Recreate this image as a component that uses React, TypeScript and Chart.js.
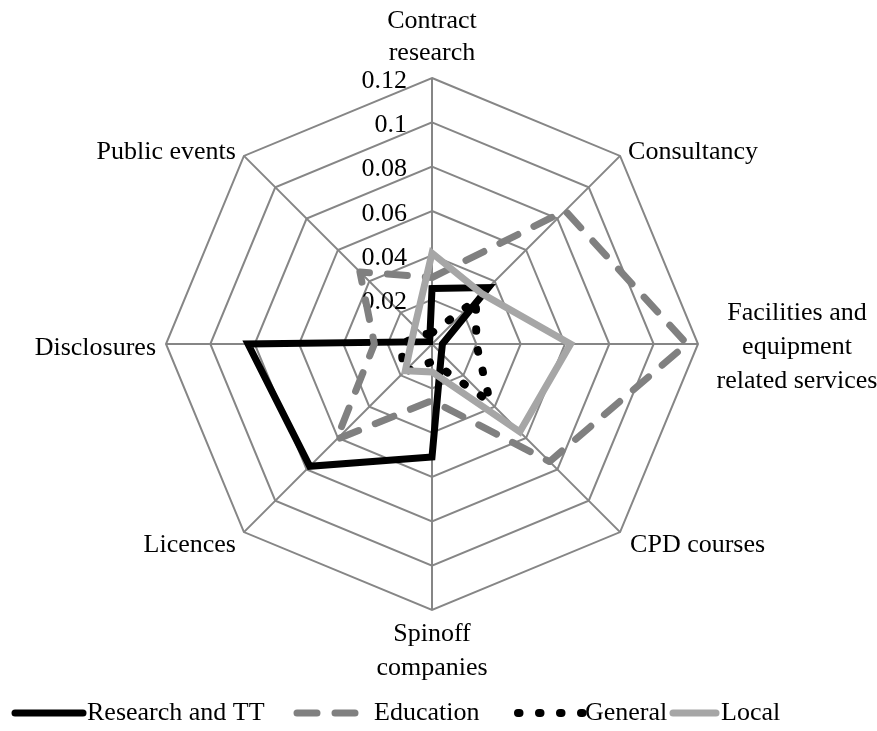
import React, { useEffect, useRef } from 'react';
import { Chart, registerables } from 'chart.js';

Chart.register(...registerables);

// ---- data ----
const CATEGORIES: string[][] = [
  ['Contract', 'research'],
  ['Consultancy'],
  ['Facilities and', 'equipment', 'related services'],
  ['CPD courses'],
  ['Spinoff', 'companies'],
  ['Licences'],
  ['Disclosures'],
  ['Public events'],
];

const SERIES_NAMES = ['Research and TT', 'Education', 'General', 'Local'];

const RESEARCH_TT = [0.025, 0.036, 0.0047, 0.006, 0.051, 0.078, 0.083, 0.0015];
const EDUCATION = [0.030, 0.085, 0.115, 0.075, 0.0255, 0.061, 0.026, 0.046];
const GENERAL = [0.005, 0.028, 0.020, 0.037, 0.008, 0.018, 0.014, 0.006];
const LOCAL = [0.041, 0.032, 0.0625, 0.056, 0.0126, 0.017, 0.0095, 0.011];

const TICK_VALUES = [0.02, 0.04, 0.06, 0.08, 0.1, 0.12];
const TICK_LABELS = ['0.02', '0.04', '0.06', '0.08', '0.1', '0.12'];

const FONT = '26px "Liberation Serif", "Times New Roman", serif';

// label placement relative to the outer vertex of each spoke
const POINT_LABEL_LAYOUT = [
  { align: 'center', dx: 0, dy: -57, lh: 32 },
  { align: 'left', dx: 8, dy: -4, lh: 32 },
  { align: 'center', dx: 99, dy: -31, lh: 34 },
  { align: 'left', dx: 10, dy: 13, lh: 32 },
  { align: 'center', dx: 0, dy: 24, lh: 34 },
  { align: 'right', dx: -8, dy: 13, lh: 32 },
  { align: 'right', dx: -10, dy: 4, lh: 32 },
  { align: 'right', dx: -8, dy: -4, lh: 32 },
];

const LEGEND_LAYOUT = [
  { x0: 15, x1: 83, tx: 87 },
  { x0: 297, x1: 364, tx: 374 },
  { x0: 518, x1: 584, tx: 585 },
  { x0: 673, x1: 716, tx: 721 },
];
const LEGEND_Y = 713;

const customText = {
  id: 'customText',
  beforeDatasetsDraw(chart: any) {
    const scale = chart.scales.r;
    const ctx = chart.ctx;
    ctx.save();
    ctx.font = FONT;
    ctx.fillStyle = '#000';
    ctx.textAlign = 'right';
    ctx.textBaseline = 'middle';
    TICK_VALUES.forEach((v, i) => {
      const d = scale.getDistanceFromCenterForValue(v);
      ctx.fillText(TICK_LABELS[i], scale.xCenter - 25, scale.yCenter - d + 3);
    });
    ctx.restore();
  },
  afterDraw(chart: any) {
    const scale = chart.scales.r;
    const ctx = chart.ctx;
    ctx.save();
    ctx.font = FONT;
    ctx.fillStyle = '#000';
    ctx.textBaseline = 'middle';
    const outer = scale.getDistanceFromCenterForValue(scale.max);
    CATEGORIES.forEach((lines, i) => {
      const p = scale.getPointPosition(i, outer);
      const l = POINT_LABEL_LAYOUT[i];
      ctx.textAlign = l.align;
      lines.forEach((t, j) => {
        ctx.fillText(t, p.x + l.dx, p.y + l.dy + j * l.lh);
      });
    });
    // legend
    chart.data.datasets.forEach((ds: any, i: number) => {
      const L = LEGEND_LAYOUT[i];
      ctx.save();
      ctx.strokeStyle = ds.borderColor;
      ctx.lineWidth = ds.borderWidth;
      ctx.lineCap = 'round';
      ctx.setLineDash(ds.borderDash || []);
      ctx.beginPath();
      ctx.moveTo(L.x0, LEGEND_Y);
      ctx.lineTo(L.x1, LEGEND_Y);
      ctx.stroke();
      ctx.restore();
      ctx.textAlign = 'left';
      ctx.fillText(ds.label, L.tx, LEGEND_Y);
    });
    ctx.restore();
  },
};

export default function App() {
  const ref = useRef<HTMLCanvasElement | null>(null);
  useEffect(() => {
    if (!ref.current) return;
    const chart = new Chart(ref.current, {
      type: 'radar',
      data: {
        labels: CATEGORIES.map((c) => c.join(' ')),
        datasets: [
          {
            label: SERIES_NAMES[0],
            data: RESEARCH_TT,
            borderColor: '#000000',
            borderWidth: 7,
            fill: false,
            pointRadius: 0,
            borderJoinStyle: 'miter',
            order: 4,
          },
          {
            label: SERIES_NAMES[1],
            data: EDUCATION,
            borderColor: '#808080',
            borderWidth: 7,
            borderDash: [20, 18],
            borderCapStyle: 'round',
            borderJoinStyle: 'round',
            fill: false,
            pointRadius: 0,
            order: 3,
          },
          {
            label: SERIES_NAMES[2],
            data: GENERAL,
            borderColor: '#000000',
            borderWidth: 8,
            borderDash: [1.5, 19.5],
            borderCapStyle: 'round',
            fill: false,
            pointRadius: 0,
            order: 2,
          },
          {
            label: SERIES_NAMES[3],
            data: LOCAL,
            borderColor: '#a6a6a6',
            borderWidth: 7,
            fill: false,
            pointRadius: 0,
            borderJoinStyle: 'miter',
            order: 1,
          },
        ],
      } as any,
      options: {
        responsive: false,
        animation: false,
        layout: { padding: { left: 166, top: 78, right: 179, bottom: 121 } },
        plugins: { legend: { display: false }, tooltip: { enabled: false } },
        elements: { line: { tension: 0 }, point: { radius: 0 } },
        scales: {
          r: {
            min: 0,
            max: 0.12,
            ticks: { display: false, stepSize: 0.02 },
            grid: { color: '#868686', lineWidth: 2 },
            angleLines: { color: '#868686', lineWidth: 2 },
            pointLabels: { display: false },
          },
        },
      } as any,
      plugins: [customText],
    });
    return () => chart.destroy();
  }, []);
  return (
    <canvas
      ref={ref}
      width={877}
      height={731}
      style={{ position: 'absolute', left: 0, top: 0, background: '#fff' }}
    />
  );
}
